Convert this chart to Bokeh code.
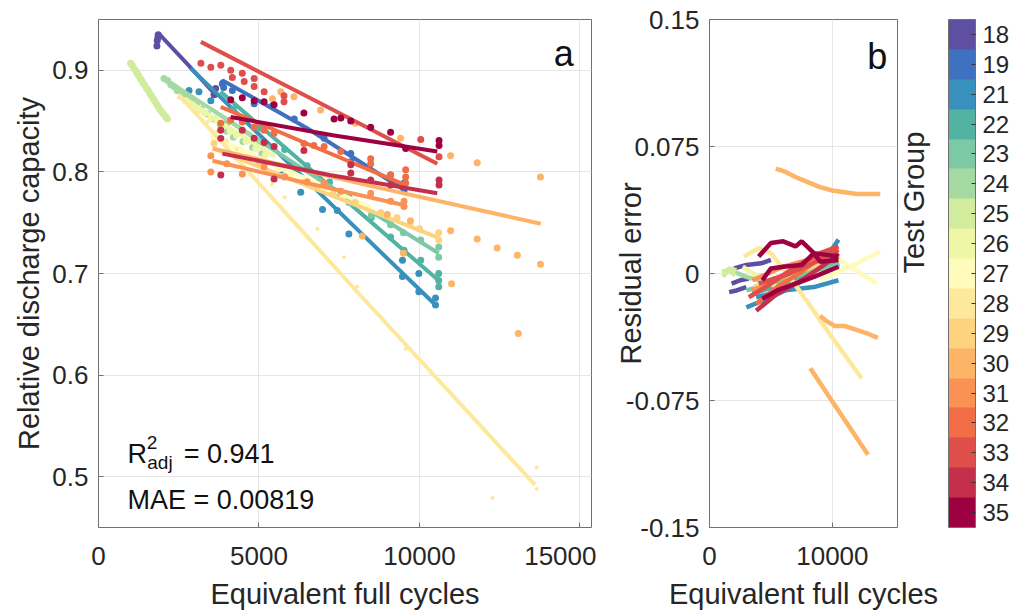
import math
from bokeh.plotting import figure
from bokeh.models import (Range1d, LinearAxis, FixedTicker, ColorBar, LinearColorMapper,
                          Label, AllLabels)
from bokeh.layouts import row
from bokeh.embed import file_html
from bokeh.resources import INLINE

# ---------------- data ----------------
groups = [18, 19, 21, 22, 23, 24, 25, 26, 27, 28, 29, 30, 31, 32, 33, 34, 35]
palette = ["#5e4fa2", "#3f71c1", "#3891bd", "#52b3a3", "#7cc9a6", "#a5d9a2",
           "#d0ec9c", "#eef7a6", "#fffbba", "#fee89b", "#fed380", "#fdb466",
           "#f99254", "#f16d45", "#de4e4b", "#c42f4c", "#9e0142"]

# fitted degradation curves (panel a)
fit_x = {
    18: [1850, 1880, 2800, 3700], 19: [3800, 3870, 6500, 9540],
    21: [2870, 6700, 10500], 22: [3800, 7200, 10600], 23: [3500, 7000, 10600],
    24: [2040, 3500, 5200], 25: [1000, 1550, 2150], 26: [2700, 4000, 5500],
    27: [3500, 6000, 8500], 28: [2500, 8000, 13600], 29: [3600, 7000, 10600],
    30: [3550, 8500, 13780], 31: [3550, 6500, 9570], 32: [3810, 6700, 9570],
    33: [3190, 7000, 10555], 34: [3860, 7200, 10555], 35: [4120, 7300, 10555],
}
fit_y = {
    18: [0.927, 0.936, 0.905, 0.874], 19: [0.884, 0.890, 0.843, 0.782],
    21: [0.902, 0.785, 0.669], 22: [0.879, 0.786, 0.693], 23: [0.862, 0.790, 0.720],
    24: [0.892, 0.862, 0.826], 25: [0.908, 0.880, 0.852], 26: [0.872, 0.845, 0.815],
    27: [0.835, 0.800, 0.765], 28: [0.876, 0.684, 0.492], 29: [0.823, 0.780, 0.735],
    30: [0.823, 0.786, 0.749], 31: [0.811, 0.789, 0.767], 32: [0.864, 0.825, 0.787],
    33: [0.928, 0.866, 0.808], 34: [0.818, 0.797, 0.779], 35: [0.854, 0.836, 0.820],
}

# measured capacities (panel a)
dot_x = {
    18: [1820, 1830, 1850, 1860, 3600, 3650],
    19: [3860, 3900, 4170, 4850, 5420, 6100, 7030, 7860, 7860, 9100, 9520, 9520],
    21: [2820, 3130, 3500, 5680, 6300, 6980, 7440, 7800, 9470, 9470, 9980, 9980, 10500, 10500],
    22: [4200, 5000, 5800, 6500, 7200, 7800, 8500, 9100, 9520, 10040, 10600, 10600, 10600],
    23: [4000, 5000, 6000, 7000, 7800, 8500, 9100, 9500, 10040, 10600, 10600],
    24: [2040, 2150, 2250, 2350, 2450, 2600, 2750, 2900, 3050, 3200, 3400, 3600, 3800, 4000, 4200, 4500, 4800, 5100],
    25: [1000, 1050, 1100, 1150, 1200, 1250, 1300, 1350, 1400, 1450, 1500, 1550, 1600, 1650, 1700, 1750,
         1800, 1850, 1900, 1950, 2000, 2050, 2100, 2150],
    26: [2700, 2900, 3100, 3300, 3500, 3700, 3900, 4100, 4300, 4600, 4900, 5200],
    27: [3600, 4000, 4400, 4800, 5200, 5600, 6000, 6500, 7000, 7600, 8200],
    28: [2500, 2800, 3100, 3400, 3700, 4000, 4300, 4600, 5000, 5400, 5800, 6820, 7650, 8060, 9570, 12270, 13650, 13650],
    29: [3600, 4300, 5000, 5800, 6500, 7300, 8000, 8800, 9300, 9700, 10000, 10600, 10600],
    30: [5420, 5680, 6090, 6920, 8000, 9410, 10970, 11800, 13770,
         9000, 9720, 10970, 11800, 12420, 13050, 13770, 8220, 9500, 11000, 13080],
    31: [3500, 3500, 4000, 4480, 5160, 5800, 6500, 7030, 7550, 8480, 9100, 9520, 9520],
    32: [3810, 4120, 4480, 4850, 5160, 5470, 6400, 6710, 7030, 7550, 8480, 8480, 9100, 9570, 9570, 9570],
    33: [3190, 3500, 3810, 4120, 4170, 4480, 4540, 4850, 4850, 5160, 5780, 5780, 10040, 10610],
    34: [3810, 3810, 3810, 4480, 4850, 5160, 5470, 5470, 6400, 7860, 7860, 8480, 9100, 10610, 10610],
    35: [4120, 4480, 4850, 5160, 5470, 6400, 7340, 7550, 7860, 8480, 9100, 9570, 10610, 10610],
}
dot_y = {
    18: [0.924, 0.929, 0.932, 0.935, 0.876, 0.882],
    19: [0.887, 0.883, 0.880, 0.867, 0.865, 0.852, 0.833, 0.818, 0.810, 0.797, 0.789, 0.782],
    21: [0.880, 0.879, 0.870, 0.797, 0.780, 0.763, 0.762, 0.739, 0.713, 0.697, 0.700, 0.682, 0.676, 0.669],
    22: [0.862, 0.843, 0.822, 0.806, 0.790, 0.775, 0.755, 0.736, 0.723, 0.713, 0.700, 0.693, 0.687],
    23: [0.848, 0.830, 0.803, 0.784, 0.770, 0.757, 0.748, 0.740, 0.733, 0.726, 0.716],
    24: [0.892, 0.890, 0.886, 0.884, 0.880, 0.877, 0.873, 0.870, 0.866, 0.862, 0.857, 0.852, 0.846, 0.840, 0.834, 0.830, 0.824, 0.818],
    25: [0.907, 0.905, 0.902, 0.900, 0.897, 0.895, 0.892, 0.890, 0.887, 0.885, 0.882, 0.880, 0.877, 0.875, 0.872, 0.870,
         0.867, 0.865, 0.862, 0.860, 0.858, 0.856, 0.854, 0.852],
    26: [0.870, 0.866, 0.862, 0.858, 0.853, 0.850, 0.845, 0.840, 0.836, 0.830, 0.823, 0.817],
    27: [0.833, 0.829, 0.822, 0.815, 0.810, 0.803, 0.797, 0.790, 0.783, 0.775, 0.768],
    28: [0.873, 0.866, 0.858, 0.849, 0.840, 0.831, 0.822, 0.812, 0.800, 0.788, 0.775, 0.744, 0.716, 0.687, 0.626, 0.479, 0.509, 0.488],
    29: [0.828, 0.815, 0.808, 0.796, 0.790, 0.778, 0.770, 0.760, 0.755, 0.748, 0.744, 0.740, 0.733],
    30: [0.872, 0.879, 0.874, 0.861, 0.848, 0.833, 0.816, 0.809, 0.795,
         0.758, 0.752, 0.742, 0.734, 0.725, 0.718, 0.709, 0.737, 0.720, 0.690, 0.641],
    31: [0.816, 0.800, 0.808, 0.798, 0.805, 0.795, 0.790, 0.789, 0.781, 0.779, 0.771, 0.771, 0.766],
    32: [0.848, 0.851, 0.849, 0.844, 0.841, 0.838, 0.828, 0.826, 0.825, 0.820, 0.813, 0.808, 0.797, 0.802, 0.795, 0.789],
    33: [0.907, 0.903, 0.905, 0.900, 0.893, 0.897, 0.889, 0.892, 0.884, 0.879, 0.875, 0.869, 0.832, 0.815],
    34: [0.841, 0.833, 0.797, 0.841, 0.833, 0.829, 0.825, 0.793, 0.821, 0.807, 0.799, 0.792, 0.787, 0.792, 0.787],
    35: [0.871, 0.873, 0.870, 0.869, 0.866, 0.858, 0.852, 0.853, 0.850, 0.844, 0.839, 0.823, 0.831, 0.826],
}

# residual trajectories (panel b)
res_group = [18, 18, 18, 19, 21, 21, 22, 23, 24, 25, 25, 26, 27, 27, 28, 29,
             30, 30, 30, 31, 31, 32, 33, 33, 34, 35, 35, 35]
res_x = [
    [1800, 2500, 3200], [2000, 3000, 4200, 5000], [1600, 2200, 3000],
    [3500, 5500, 7500, 9500],
    [3000, 5000, 7000, 9000, 10500], [3800, 6000, 8500, 10500],
    [3500, 6000, 8500, 10600],
    [3000, 5500, 8000, 10600],
    [2000, 3000, 4000, 5000],
    [1000, 1500, 2100], [1100, 1600, 2200],
    [2700, 4000, 5500],
    [9000, 10500, 12000, 13900], [8500, 10000, 11500, 13600],
    [2800, 4000, 5000, 6500, 8000, 10000, 12400],
    [3600, 6000, 8500, 10600],
    [5400, 6200, 7000, 8000, 9000, 10000, 11000, 12000, 13000, 13900],
    [9000, 9500, 10200, 11000, 11850, 12700, 13700],
    [8200, 10500, 12900],
    [3500, 5500, 7500, 9500], [3500, 6000, 9500],
    [3800, 5500, 7500, 9500],
    [3200, 5000, 7000, 9000, 10500], [4000, 6500, 9000, 10500],
    [3800, 5500, 7500, 9500, 10500],
    [4000, 5000, 6000, 7000, 7500, 8500, 9500, 10500],
    [4300, 5000, 6000, 7500, 8500, 9000, 10500],
    [4300, 5500, 7000, 8500, 10500],
]
res_y = [
    [-0.006, -0.004, -0.003], [0.003, 0.005, 0.006, 0.008], [-0.011, -0.010, -0.008],
    [-0.012, -0.006, 0.002, 0.010],
    [-0.020, -0.014, -0.007, 0.004, 0.020], [-0.014, -0.010, -0.008, -0.004],
    [-0.012, -0.006, 0.002, 0.008],
    [-0.010, -0.005, 0.001, 0.005],
    [0.001, -0.002, -0.004, -0.006],
    [0.001, 0.002, -0.001], [-0.002, 0.003, 0.002],
    [0.004, -0.002, -0.008],
    [-0.004, 0.001, 0.006, 0.013], [0.012, 0.010, 0.004, -0.006],
    [0.010, 0.015, 0.012, -0.002, -0.017, -0.038, -0.062],
    [-0.008, -0.002, 0.004, 0.010],
    [0.062, 0.060, 0.057, 0.054, 0.051, 0.049, 0.048, 0.047, 0.047, 0.047],
    [-0.025, -0.028, -0.031, -0.031, -0.033, -0.035, -0.038],
    [-0.056, -0.081, -0.107],
    [-0.010, -0.004, 0.004, 0.012], [-0.004, 0.004, 0.011],
    [-0.018, -0.008, 0.001, 0.012],
    [-0.014, -0.006, 0.004, 0.012, 0.016], [-0.006, 0.000, 0.008, 0.014],
    [-0.022, -0.012, -0.004, 0.006, 0.012],
    [0.010, 0.018, 0.019, 0.016, 0.019, 0.012, 0.011, 0.010],
    [-0.004, 0.003, 0.004, 0.005, 0.012, 0.007, 0.008],
    [-0.015, -0.010, -0.006, -0.002, 0.004],
]

xticks_a = [0, 5000, 10000, 15000]
yticks_a = [0.5, 0.6, 0.7, 0.8, 0.9]
xticks_b = [0, 10000]
yticks_b = [-0.15, -0.075, 0, 0.075, 0.15]
yticklabels_b = ["-0.15", "-0.075", "0", "0.075", "0.15"]

# ---------------- style ----------------
FONT = "Liberation Sans"
INK = "#262626"
BOX = "#707070"
GRID = "#e6e6e6"
color_of = dict(zip(groups, palette))


def style_axis(ax, ticks, standoff=10, label_standoff=4):
    ax.ticker = FixedTicker(ticks=ticks)
    ax.axis_line_color = None
    ax.major_tick_in = 5
    ax.major_tick_out = 0
    ax.major_tick_line_color = BOX
    ax.minor_tick_line_color = None
    ax.major_label_text_font = FONT
    ax.major_label_text_font_size = "26px"
    ax.major_label_text_color = INK
    ax.major_label_standoff = standoff
    ax.axis_label_text_font = FONT
    ax.axis_label_text_font_size = "29px"
    ax.axis_label_text_font_style = "normal"
    ax.axis_label_text_color = INK
    ax.axis_label_standoff = label_standoff


H = 612
TOP = 19
BOTTOM = H - TOP - 508

# ---------------- panel a ----------------
p1 = figure(width=596, height=H, x_range=Range1d(0, 15360), y_range=Range1d(0.45, 0.95),
            output_backend="svg", toolbar_location=None,
            min_border_left=98, min_border_right=5, min_border_top=TOP, min_border_bottom=BOTTOM)
p1.outline_line_color = BOX
p1.grid.grid_line_color = GRID
style_axis(p1.xaxis[0], xticks_a, standoff=19, label_standoff=10)
style_axis(p1.yaxis[0], yticks_a)
p1.xaxis.axis_label = "Equivalent full cycles"
p1.yaxis.axis_label = "Relative discharge capacity"

for g in groups:
    c = color_of[g]
    sz = 4 if g == 28 else 7
    p1.scatter(dot_x[g], dot_y[g], size=sz, fill_color=c, line_color=None)
    p1.line(fit_x[g], fit_y[g], line_width=4, line_color=c)

for txt, x, y, fs in [("a", 14180, 0.9162, "36px"),
                      ("R", 903, 0.5224, "27px"),
                      ("2", 1504, 0.5332, "19px"),
                      ("adj", 1520, 0.5136, "19px"),
                      ("= 0.941", 2656, 0.5224, "27px"),
                      ("MAE = 0.00819", 903, 0.4772, "27px")]:
    p1.add_layout(Label(x=x, y=y, text=txt, text_font=FONT, text_font_size=fs,
                        text_color="#111111", text_baseline="alphabetic", text_align="left"))

# ---------------- panel b ----------------
p2 = figure(width=418, height=H, x_range=Range1d(0, 15300), y_range=Range1d(-0.15, 0.15),
            output_backend="svg", toolbar_location=None,
            min_border_left=113, min_border_right=117, min_border_top=TOP, min_border_bottom=BOTTOM)
p2.outline_line_color = BOX
p2.grid.grid_line_color = GRID
style_axis(p2.xaxis[0], xticks_b, standoff=19, label_standoff=10)
style_axis(p2.yaxis[0], yticks_b)
p2.yaxis[0].major_label_overrides = dict(zip(yticks_b, yticklabels_b))
p2.xaxis.axis_label = "Equivalent full cycles"
p2.yaxis.axis_label = "Residual error"
p2.yaxis[0].axis_label_standoff = -24

rax = LinearAxis(ticker=FixedTicker(ticks=[]), axis_line_color=None,
                 major_tick_line_color=None, minor_tick_line_color=None,
                 axis_label="Test Group", axis_label_text_font=FONT,
                 axis_label_text_font_size="29px", axis_label_text_font_style="normal",
                 axis_label_text_color=INK, axis_label_standoff=16,
                 axis_label_orientation=math.pi / 2)
p2.add_layout(rax, "right")

for g, xs, ys in zip(res_group, res_x, res_y):
    p2.line(xs, ys, line_width=4.5, line_color=color_of[g])

p2.add_layout(Label(x=12834, y=0.1279, text="b", text_font=FONT, text_font_size="36px",
                    text_color="#111111", text_baseline="alphabetic", text_align="left"))

n = len(groups)
mapper = LinearColorMapper(palette=list(reversed(palette)), low=0, high=n)
cb_ticks = [n - 0.5 - i for i in range(n)]
cb = ColorBar(color_mapper=mapper, ticker=FixedTicker(ticks=cb_ticks),
              major_label_overrides={t: str(g) for t, g in zip(cb_ticks, groups)},
              major_label_policy=AllLabels(),
              width=27, margin=0, padding=0, label_standoff=7,
              major_tick_in=4, major_tick_out=0, major_tick_line_color="#333333",
              minor_tick_line_color=None,
              major_label_text_font=FONT, major_label_text_font_size="24px",
              major_label_text_color=INK, bar_line_color=BOX,
              border_line_color=None, background_fill_alpha=0)
p2.add_layout(cb, "right")

layout = row(p1, p2)
open("out.html", "w").write(file_html(layout, INLINE))
